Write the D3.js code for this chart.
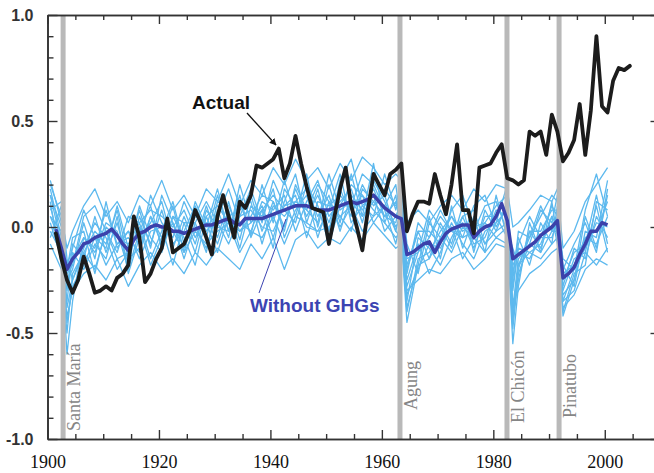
<!DOCTYPE html>
<html>
<head>
<meta charset="utf-8">
<script src="https://cdn.jsdelivr.net/npm/d3@7"></script>
<style>
  body { margin: 0; background: #fff; }
</style>
</head>
<body>
<div id="chart"></div>
<script>
//////////////// data ////////////////

// observed global temperature anomaly, one value per year from 1901
const actualStart = 1901;
const actualValues = [
  -0.03, -0.15, -0.25, -0.31, -0.25, -0.14, -0.22, -0.31, -0.30, -0.28,
  -0.30, -0.24, -0.22, -0.18, 0.05, -0.05, -0.26, -0.22, -0.15, -0.10,
  0.04, -0.12, -0.10, -0.08, -0.02, 0.08, 0.02, -0.05, -0.13, 0.05,
  0.15, 0.05, -0.05, 0.12, 0.09, 0.15, 0.29, 0.28, 0.30, 0.32,
  0.37, 0.23, 0.30, 0.43, 0.30, 0.19, 0.09, 0.08, 0.07, -0.08,
  0.05, 0.18, 0.28, 0.10, 0.00, -0.11, 0.08, 0.25, 0.20, 0.15,
  0.25, 0.27, 0.30, -0.02, 0.06, 0.12, 0.12, 0.11, 0.25, 0.15,
  0.06, 0.20, 0.39, 0.08, 0.08, -0.03, 0.28, 0.29, 0.30, 0.35,
  0.39, 0.23, 0.22, 0.20, 0.22, 0.45, 0.43, 0.45, 0.34, 0.53,
  0.45, 0.31, 0.35, 0.41, 0.58, 0.34, 0.55, 0.90, 0.57, 0.54,
  0.69, 0.75, 0.74, 0.76
];

// ensemble mean of runs without greenhouse gases, one value per year from 1901
const meanStart = 1901;
const meanValues = [
  -0.01, -0.10, -0.20, -0.15, -0.12, -0.08, -0.07, -0.05, -0.04, -0.03,
  -0.01, -0.04, -0.08, -0.11, -0.06, -0.03, -0.02, 0.00, 0.01, 0.00,
  0.00, -0.02, -0.02, -0.03, -0.02, -0.01, 0.00, 0.01, 0.01, 0.02,
  0.03, 0.04, 0.02, 0.01, 0.04, 0.04, 0.04, 0.04, 0.05, 0.06,
  0.07, 0.08, 0.09, 0.10, 0.10, 0.10, 0.09, 0.08, 0.08, 0.08,
  0.09, 0.10, 0.11, 0.12, 0.11, 0.12, 0.13, 0.15, 0.12, 0.09,
  0.07, 0.05, 0.04, -0.13, -0.12, -0.10, -0.08, -0.07, -0.12, -0.07,
  -0.03, -0.01, 0.00, 0.01, 0.01, -0.05, -0.02, 0.00, 0.01, 0.05,
  0.11, 0.03, -0.15, -0.13, -0.11, -0.09, -0.07, -0.04, -0.02, 0.00,
  0.03, -0.24, -0.22, -0.19, -0.13, -0.08, -0.02, -0.02, 0.02, 0.01
];

// individual runs without greenhouse gases (sampled years)
const ensembleYears = [
  1900, 1902, 1903, 1904, 1906, 1908, 1910, 1912, 1914, 1916,
  1918, 1920, 1922, 1924, 1926, 1928, 1930, 1932, 1934, 1936,
  1938, 1940, 1942, 1944, 1946, 1948, 1950, 1952, 1954, 1956,
  1958, 1960, 1962, 1963, 1964, 1966, 1968, 1970, 1972, 1974,
  1976, 1978, 1980, 1982, 1983, 1984, 1986, 1988, 1990, 1991,
  1992, 1994, 1996, 1998, 2000
];
const run01 = [
  0.20, 0.05, -0.10, -0.02, 0.10, 0.18, 0.05, 0.12, 0.02, 0.15,
  0.10, 0.22, 0.08, 0.15, 0.05, 0.18, 0.12, 0.25, 0.10, 0.22,
  0.15, 0.28, 0.20, 0.32, 0.22, 0.28, 0.18, 0.30, 0.22, 0.33,
  0.28, 0.20, 0.25, 0.22, 0.02, 0.08, 0.02, 0.10, 0.15, 0.08,
  0.18, 0.12, 0.20, 0.18, 0.00, 0.02, 0.08, 0.15, 0.12, 0.18,
  -0.10, -0.02, 0.12, 0.20, 0.28
];
const run02 = [
  -0.08, -0.20, -0.42, -0.30, -0.22, -0.18, -0.25, -0.15, -0.28, -0.18,
  -0.12, -0.20, -0.15, -0.22, -0.12, -0.18, -0.10, -0.15, -0.20, -0.08,
  -0.15, -0.05, -0.20, -0.06, -0.02, -0.10, -0.05, -0.08, 0.00, -0.06,
  0.02, -0.04, -0.10, -0.08, -0.30, -0.25, -0.20, -0.22, -0.15, -0.12,
  -0.20, -0.15, -0.08, -0.10, -0.35, -0.30, -0.22, -0.18, -0.12, -0.10,
  -0.38, -0.32, -0.20, -0.15, -0.18
];
const run03 = [
  0.10, -0.12, -0.30, -0.08, -0.15, 0.05, -0.12, 0.02, -0.18, 0.05,
  -0.08, 0.08, -0.10, 0.05, -0.08, 0.10, -0.05, 0.12, -0.06, 0.15,
  -0.02, 0.12, 0.00, 0.18, 0.05, 0.15, 0.02, 0.18, 0.05, 0.20,
  0.10, 0.15, -0.02, 0.10, -0.20, -0.02, -0.15, 0.02, -0.08, 0.10,
  -0.12, 0.08, -0.02, 0.12, -0.22, -0.05, -0.18, 0.02, -0.08, 0.10,
  -0.28, -0.10, -0.15, 0.05, -0.05
];
const run04 = [
  0.02, -0.15, -0.60, -0.35, -0.05, -0.10, 0.08, -0.08, -0.05, -0.12,
  0.05, -0.05, 0.10, -0.12, 0.08, -0.05, 0.15, -0.02, 0.12, -0.04,
  0.20, 0.02, 0.22, 0.05, 0.25, 0.00, 0.20, 0.02, 0.25, 0.05,
  0.30, 0.02, 0.15, -0.05, -0.45, -0.18, 0.05, -0.15, 0.10, -0.10,
  0.05, -0.12, 0.15, -0.05, -0.55, -0.28, 0.02, -0.12, 0.12, -0.05,
  -0.42, -0.25, 0.05, -0.10, 0.15
];
const run05 = [
  0.22, 0.02, -0.25, -0.20, 0.02, -0.15, 0.12, -0.10, -0.02, -0.08,
  0.15, 0.02, -0.05, 0.12, 0.00, -0.10, 0.08, -0.05, 0.20, 0.02,
  0.10, -0.05, 0.12, 0.25, 0.02, 0.18, -0.02, 0.22, 0.32, 0.10,
  0.05, 0.25, 0.08, 0.18, -0.08, -0.22, 0.02, -0.05, 0.05, -0.05,
  -0.02, 0.10, 0.12, -0.02, -0.10, -0.18, -0.05, 0.10, -0.02, 0.05,
  -0.18, -0.28, -0.02, -0.05, 0.22
];
const run06 = [
  -0.05, 0.10, -0.15, -0.25, -0.10, 0.02, -0.05, -0.20, -0.12, 0.10,
  -0.05, -0.12, 0.05, -0.05, -0.18, 0.05, -0.08, 0.08, -0.10, 0.10,
  0.05, 0.18, -0.05, 0.08, 0.15, -0.05, 0.12, 0.05, -0.02, 0.18,
  0.12, 0.05, 0.12, 0.02, -0.25, -0.08, -0.22, -0.12, 0.02, -0.08,
  -0.15, -0.02, 0.02, 0.08, -0.30, -0.10, -0.12, -0.08, 0.05, 0.00,
  -0.30, -0.15, -0.12, 0.10, -0.12
];
const run07 = [
  0.15, -0.08, -0.35, -0.12, -0.20, -0.08, -0.15, 0.05, -0.22, -0.05,
  0.02, 0.12, -0.08, -0.02, 0.10, -0.02, 0.05, 0.18, 0.02, -0.02,
  0.12, 0.08, 0.15, -0.02, 0.12, 0.22, 0.05, 0.12, 0.18, 0.02,
  0.22, 0.12, 0.00, 0.05, -0.35, -0.05, -0.10, -0.18, -0.05, 0.05,
  -0.08, -0.05, 0.08, 0.05, -0.40, -0.20, -0.02, -0.02, 0.08, 0.08,
  -0.22, -0.18, -0.05, -0.08, 0.05
];
const run08 = [
  0.05, -0.02, -0.20, -0.05, -0.02, -0.22, 0.00, -0.05, -0.08, 0.02,
  -0.15, -0.02, 0.12, -0.08, 0.05, 0.02, -0.12, 0.05, 0.08, 0.12,
  -0.08, 0.10, 0.05, 0.12, 0.18, 0.05, 0.15, -0.02, 0.15, 0.08,
  0.18, 0.05, 0.02, 0.15, -0.15, -0.12, -0.05, 0.05, -0.02, 0.02,
  -0.10, 0.05, 0.05, -0.05, -0.18, -0.12, -0.15, -0.05, -0.05, 0.02,
  -0.35, -0.20, -0.10, 0.02, 0.00
];
const run09 = [
  0.12, -0.18, -0.50, -0.22, -0.12, -0.02, -0.08, 0.08, -0.15, -0.10,
  0.05, -0.08, 0.02, -0.15, 0.02, 0.12, 0.02, -0.08, 0.05, 0.08,
  0.00, -0.02, 0.10, 0.15, -0.05, 0.12, 0.10, 0.15, 0.08, 0.15,
  0.08, 0.02, -0.05, -0.02, -0.40, -0.15, -0.12, -0.02, 0.05, -0.02,
  0.02, -0.08, -0.02, 0.02, -0.48, -0.22, -0.08, -0.12, -0.02, -0.02,
  -0.40, -0.22, -0.18, 0.12, 0.08
];
const run10 = [
  0.18, -0.05, -0.22, -0.18, 0.05, 0.10, -0.02, -0.12, 0.05, 0.02,
  0.08, 0.05, 0.00, 0.08, -0.05, 0.05, 0.10, 0.02, -0.02, 0.05,
  0.15, 0.12, -0.02, 0.20, 0.08, 0.02, 0.25, 0.08, 0.12, 0.05,
  0.12, 0.18, 0.10, 0.08, -0.18, -0.02, -0.02, -0.08, 0.08, 0.15,
  0.00, 0.02, 0.10, 0.15, -0.25, -0.02, -0.05, 0.05, 0.15, 0.12,
  -0.20, -0.08, 0.02, -0.12, 0.18
];
const run11 = [
  0.08, 0.12, -0.28, -0.15, -0.05, -0.12, 0.02, -0.02, -0.20, -0.02,
  0.10, -0.10, 0.05, 0.02, -0.12, 0.08, 0.00, -0.02, 0.15, -0.05,
  0.08, 0.15, 0.08, 0.02, 0.20, 0.10, -0.08, 0.10, 0.20, 0.15,
  0.02, 0.10, 0.20, 0.00, -0.28, -0.12, 0.08, 0.00, -0.10, 0.05,
  0.08, -0.08, 0.02, 0.20, -0.38, -0.15, -0.08, 0.08, 0.02, 0.15,
  -0.25, -0.12, -0.08, 0.15, -0.08
];
const run12 = [
  -0.02, -0.12, -0.45, -0.28, -0.18, -0.05, -0.18, -0.08, -0.02, -0.15,
  -0.02, 0.00, -0.18, 0.02, 0.02, -0.12, 0.12, 0.10, -0.02, 0.02,
  0.08, -0.10, 0.18, 0.10, 0.00, -0.02, 0.08, 0.25, 0.02, 0.10,
  0.15, -0.02, 0.05, 0.12, -0.32, -0.20, -0.08, -0.10, 0.00, -0.15,
  -0.05, 0.02, -0.05, 0.00, -0.42, -0.25, -0.02, -0.10, 0.05, -0.08,
  -0.32, -0.25, -0.05, -0.02, 0.12
];
const run13 = [
  0.15, 0.00, -0.18, -0.10, 0.08, -0.05, -0.10, 0.10, -0.10, 0.08,
  -0.10, 0.15, 0.02, -0.10, 0.12, 0.00, 0.18, -0.02, 0.05, 0.18,
  0.02, 0.22, 0.10, 0.12, 0.08, 0.20, 0.12, 0.00, 0.10, 0.25,
  0.20, 0.08, -0.08, 0.05, -0.22, 0.02, -0.05, 0.08, -0.02, -0.05,
  0.10, 0.15, 0.00, 0.10, -0.28, -0.08, 0.05, -0.05, 0.10, 0.05,
  -0.15, -0.20, 0.08, 0.25, 0.05
];
const run14 = [
  0.05, -0.08, -0.38, -0.25, -0.12, -0.20, -0.02, -0.15, -0.12, 0.00,
  -0.18, -0.05, -0.02, -0.12, -0.02, -0.08, -0.02, 0.02, -0.12, -0.02,
  -0.05, 0.05, -0.08, 0.05, 0.02, -0.02, 0.00, 0.05, 0.10, -0.02,
  0.05, 0.10, -0.02, -0.05, -0.38, -0.18, -0.15, -0.05, -0.12, 0.00,
  -0.05, -0.12, -0.05, -0.08, -0.45, -0.18, -0.12, -0.15, -0.08, -0.05,
  -0.35, -0.30, -0.12, -0.18, -0.10
];
const ensembleRuns = [run01, run02, run03, run04, run05, run06, run07,
  run08, run09, run10, run11, run12, run13, run14];

// volcanic eruptions
const volcanoNames = ["Santa María", "Agung", "El Chicón", "Pinatubo"];
const volcanoYears = [1902.8, 1963.25, 1982.45, 1991.8];

// axis ticks
const xMajorTicks = [1900, 1920, 1940, 1960, 1980, 2000];
const xMinorTicks = [1905, 1910, 1915, 1925, 1930, 1935, 1945, 1950, 1955,
  1965, 1970, 1975, 1985, 1990, 1995, 2005];
const yMajorTicks = [-1.0, -0.5, 0.0, 0.5, 1.0];
const yMinorTicks = [-0.9, -0.8, -0.7, -0.6, -0.4, -0.3, -0.2, -0.1,
  0.1, 0.2, 0.3, 0.4, 0.6, 0.7, 0.8, 0.9];

//////////////// layout ////////////////
const width = 654,
  height = 473;

// annual means sit in the middle of their year
const midYear = 0.5;

// where each volcano label starts (its bottom end)
const volcanoLabelBottom = [431, 410, 423, 418];

const x = d3.scaleLinear().domain([1900, 2010]).range([47.5, 660.5]);
const y = d3.scaleLinear().domain([-1, 1]).range([439, 15]);

const svg = d3
  .select("#chart")
  .append("svg")
  .attr("width", width)
  .attr("height", height);

const line = d3
  .line()
  .x((d) => x(d.year + midYear))
  .y((d) => y(d.value));

//turn a value list into points
function toPoints(values, start) {
  return values.map((v, i) => ({ year: start + i, value: v }));
}

//////////////// ensemble runs ////////////////
svg
  .append("g")
  .selectAll("path")
  .data(ensembleRuns)
  .enter()
  .append("path")
  .attr("d", (run) =>
    line(run.map((v, i) => ({ year: ensembleYears[i], value: v })))
  )
  .attr("fill", "none")
  .attr("stroke", "#5db9ee")
  .attr("stroke-width", 1.3)
  .attr("stroke-linejoin", "round");

//////////////// volcano bars ////////////////
svg
  .append("g")
  .selectAll("line")
  .data(volcanoYears)
  .enter()
  .append("line")
  .attr("x1", (d) => x(d))
  .attr("x2", (d) => x(d))
  .attr("y1", y(1))
  .attr("y2", y(-1))
  .attr("stroke", "#b9b9b9")
  .attr("stroke-width", 5);

svg
  .append("g")
  .selectAll("text")
  .data(volcanoNames)
  .enter()
  .append("text")
  .attr("transform", (d, i) =>
    "translate(" + (x(volcanoYears[i]) + 17) + "," + volcanoLabelBottom[i] + ") rotate(-90)"
  )
  .text((d) => d)
  .style("font-family", "'Liberation Serif', 'DejaVu Serif', serif")
  .style("font-size", "18px")
  .attr("fill", "#858585");

//////////////// mean and actual lines ////////////////
svg
  .append("path")
  .datum(toPoints(meanValues, meanStart))
  .attr("d", line)
  .attr("fill", "none")
  .attr("stroke", "#3b41ab")
  .attr("stroke-width", 3.5)
  .attr("stroke-linejoin", "round");

svg
  .append("path")
  .datum(toPoints(actualValues, actualStart))
  .attr("d", line)
  .attr("fill", "none")
  .attr("stroke", "#1c1c1c")
  .attr("stroke-width", 3.8)
  .attr("stroke-linejoin", "round")
  .attr("stroke-linecap", "round");

//////////////// axes ////////////////
const axisColor = "#333";

function styleAxis(g) {
  g.select(".domain").attr("stroke", axisColor).attr("stroke-width", 1.6);
  g.selectAll(".tick line").attr("stroke", axisColor).attr("stroke-width", 1.4);
}

// bottom
const bottomAxisG = svg.append("g").attr("transform", "translate(0," + y(-1) + ")");
bottomAxisG
  .append("g")
  .call(d3.axisBottom(x).tickValues(xMinorTicks).tickSize(-5).tickSizeOuter(0).tickFormat(""))
  .call(styleAxis);
bottomAxisG
  .append("g")
  .call(
    d3.axisBottom(x).tickValues(xMajorTicks).tickSize(-9).tickSizeOuter(0).tickPadding(16).tickFormat(d3.format("d"))
  )
  .call(styleAxis)
  .selectAll("text")
  .style("font-family", "'Liberation Serif', 'DejaVu Serif', serif")
  .style("font-size", "18px")
  .attr("fill", "#111");

// top
const topAxisG = svg.append("g").attr("transform", "translate(0," + y(1) + ")");
topAxisG
  .append("g")
  .call(d3.axisTop(x).tickValues(xMinorTicks).tickSize(-5).tickSizeOuter(0).tickFormat(""))
  .call(styleAxis);
topAxisG
  .append("g")
  .call(d3.axisTop(x).tickValues(xMajorTicks).tickSize(-9).tickSizeOuter(0).tickFormat(""))
  .call(styleAxis);

// left
const leftAxisG = svg.append("g").attr("transform", "translate(" + x(1900) + ",0)");
leftAxisG
  .append("g")
  .call(d3.axisLeft(y).tickValues(yMinorTicks).tickSize(-6).tickSizeOuter(0).tickFormat(""))
  .call(styleAxis);
leftAxisG
  .append("g")
  .call(
    d3.axisLeft(y).tickValues(yMajorTicks).tickSize(-10).tickSizeOuter(0).tickPadding(14).tickFormat((d) => d.toFixed(1))
  )
  .call(styleAxis)
  .selectAll("text")
  .style("font-family", "'Liberation Sans', Arial, sans-serif")
  .style("font-size", "16px")
  .style("font-weight", "bold")
  .attr("fill", "#333");

// right (mostly beyond the picture edge)
const rightAxisG = svg.append("g").attr("transform", "translate(" + x(2010) + ",0)");
rightAxisG
  .append("g")
  .call(d3.axisRight(y).tickValues(yMinorTicks).tickSize(-6).tickSizeOuter(0).tickFormat(""))
  .call(styleAxis);
rightAxisG
  .append("g")
  .call(d3.axisRight(y).tickValues(yMajorTicks).tickSize(-10).tickSizeOuter(0).tickFormat(""))
  .call(styleAxis);

//////////////// annotations ////////////////
svg
  .append("defs")
  .append("marker")
  .attr("id", "arrowHead")
  .attr("viewBox", "0 0 10 10")
  .attr("refX", 9)
  .attr("refY", 5)
  .attr("markerWidth", 7)
  .attr("markerHeight", 7)
  .attr("markerUnits", "userSpaceOnUse")
  .attr("orient", "auto")
  .append("path")
  .attr("d", "M0,0L10,5L0,10z")
  .attr("fill", "#111");

svg
  .append("text")
  .attr("x", 192)
  .attr("y", 109)
  .text("Actual")
  .style("font-family", "'Liberation Sans', Arial, sans-serif")
  .style("font-size", "19px")
  .style("font-weight", "bold")
  .attr("fill", "#111");

svg
  .append("line")
  .attr("x1", 247)
  .attr("y1", 113)
  .attr("x2", 276)
  .attr("y2", 145)
  .attr("stroke", "#111")
  .attr("stroke-width", 1.3)
  .attr("marker-end", "url(#arrowHead)");

svg
  .append("text")
  .attr("x", 250)
  .attr("y", 312)
  .text("Without GHGs")
  .style("font-family", "'Liberation Sans', Arial, sans-serif")
  .style("font-size", "19px")
  .style("font-weight", "bold")
  .attr("fill", "#3c44b2");

svg
  .append("line")
  .attr("x1", 259)
  .attr("y1", 293)
  .attr("x2", 286)
  .attr("y2", 219)
  .attr("stroke", "#3c44b2")
  .attr("stroke-width", 1);
</script>
</body>
</html>
